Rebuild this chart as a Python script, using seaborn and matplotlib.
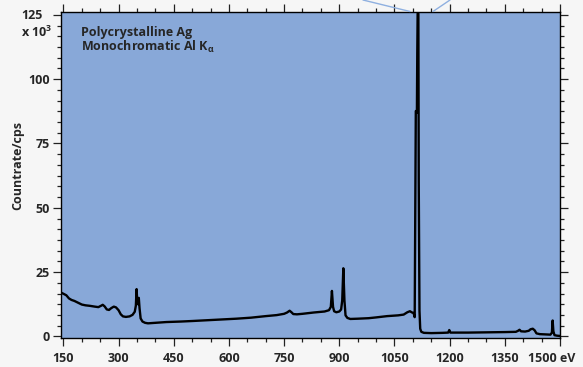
import matplotlib
matplotlib.use('Agg')
import matplotlib.pyplot as plt
from matplotlib.ticker import MultipleLocator
from matplotlib.lines import Line2D
import pandas as pd
import seaborn as sns

# ---- data (kinetic energy in eV, countrate in 10^3 cps) ----
energy_ev = [144, 150, 158, 165, 172, 180, 190, 200, 210, 222, 235, 245, 252, 257,
             262, 268, 274, 280, 287, 293, 300, 306, 312, 320, 330, 338, 344, 347,
             349, 351, 353, 355, 357, 360, 365, 372, 380, 400, 430, 470, 500, 540,
             580, 620, 660, 700, 730, 750, 758, 765, 770, 775, 785, 800, 830, 860,
             872, 877, 880, 883, 886, 892, 900, 905, 908, 911, 914, 917, 922, 930,
             950, 980, 1000, 1030, 1060, 1075, 1085, 1092, 1098, 1102, 1105, 1107,
             1108, 1110, 1111, 1112, 1113, 1115, 1116, 1118, 1120, 1123, 1130, 1150,
             1180, 1196, 1199, 1202, 1250, 1300, 1350, 1380, 1386, 1390, 1394, 1405,
             1415, 1420, 1426, 1431, 1436, 1445, 1460, 1474, 1478, 1480, 1482, 1485,
             1492, 1500]
countrate_k = [17.0, 16.6, 16.0, 14.8, 14.2, 13.8, 13.1, 12.4, 12.1, 11.9, 11.6, 11.4, 11.9, 12.3,
               11.7, 10.5, 10.3, 11.0, 11.6, 11.3, 10.2, 8.6, 7.8, 7.6, 7.8, 8.4, 9.6, 12.0,
               18.4, 13.0, 12.5, 15.0, 11.0, 7.0, 5.8, 5.3, 5.1, 5.3, 5.6, 5.8, 6.0, 6.3,
               6.6, 6.9, 7.3, 7.9, 8.3, 8.8, 9.3, 10.0, 9.4, 8.7, 8.6, 8.8, 9.3, 9.7,
               10.2, 11.5, 17.7, 11.5, 9.8, 9.4, 9.7, 10.5, 14.0, 26.5, 14.0, 8.2, 7.2, 6.8,
               6.9, 7.1, 7.4, 7.9, 8.2, 8.5, 9.4, 9.8, 9.3, 9.1, 7.5, 60.0,
               87.6, 87.6, 87.0, 110.0, 125.5, 125.5, 60.0, 10.0, 3.0, 1.8, 1.4, 1.3,
               1.4, 1.5, 2.5, 1.5, 1.5, 1.6, 1.7, 1.8, 2.2, 2.6, 2.0, 1.9,
               2.2, 2.8, 3.0, 2.4, 1.2, 0.9, 0.8, 0.7, 1.5, 6.2, 2.0, 0.5,
               0.3, 0.2]

x_ticks = [150, 300, 450, 600, 750, 900, 1050, 1200, 1350, 1500]
x_tick_labels = ['150', '300', '450', '600', '750', '900', '1050', '1200', '1350', '']
y_ticks = [0, 25, 50, 75, 100, 125]
y_tick_labels = ['0', '25', '50', '75', '100', '']
top_y_label = '125'
scale_label = r'x 10$^{3}$'
last_x_label = '1500 eV'
sample_label = 'Polycrystalline Ag'
source_label = r'Monochromatic Al K$_{\alpha}$'
y_axis_label = 'Countrate/cps'

# ---- style ----
sns.set_style('ticks')
plt.rcParams['font.family'] = ['Open Sans', 'DejaVu Sans']
plt.rcParams['font.weight'] = 'bold'
plt.rcParams['mathtext.fontset'] = 'custom'
plt.rcParams['mathtext.rm'] = 'Open Sans:bold'
plt.rcParams['mathtext.it'] = 'Open Sans:bold'
plt.rcParams['mathtext.default'] = 'rm'

W, H = 583, 367
fig = plt.figure(figsize=(W / 100, H / 100), dpi=100, facecolor='#f6f6f6')
ax = fig.add_axes([61 / W, 1 - 338 / H, (560 - 61) / W, (338 - 11.7) / H])
ax.set_facecolor('#88a8d8')

df = pd.DataFrame({'energy': energy_ev, 'countrate': countrate_k})
sns.lineplot(data=df, x='energy', y='countrate', ax=ax, color='black',
             linewidth=1.7, estimator=None, sort=False)

ax.set_xlim(143.5, 1500)
ax.set_ylim(-0.6, 126.2)
ax.set_xlabel('')
ax.set_ylabel('')

ax.set_xticks(x_ticks)
ax.set_xticklabels(x_tick_labels, fontsize=9, fontweight='bold')
ax.set_yticks(y_ticks)
ax.set_yticklabels(y_tick_labels, fontsize=9, fontweight='bold')
ax.xaxis.set_minor_locator(MultipleLocator(50))
ax.yaxis.set_minor_locator(MultipleLocator(25 / 6))

for s in ax.spines.values():
    s.set_color('black')
    s.set_linewidth(1.0)
ax.tick_params(which='major', direction='out', length=5.8, width=0.9, color='#222222',
               top=True, right=True, labeltop=False, labelright=False, pad=2)
ax.tick_params(which='minor', direction='out', length=3.0, width=0.9, color='#222222',
               top=True, right=True)
ax.tick_params(axis='x', which='major', pad=4)

# manual labels
fig.text(43 / W, 1 - 15.7 / H, top_y_label, ha='right', va='center', fontsize=9, fontweight='bold')
fig.text(52 / W, 1 - 32 / H, scale_label, ha='right', va='center', fontsize=9, fontweight='bold')
fig.text(552 / W, 1 - 358.5 / H, last_x_label, ha='center', va='center', fontsize=9, fontweight='bold')
fig.text(18 / W, 1 - 166 / H, y_axis_label, rotation=90, ha='center', va='center',
         fontsize=9, fontweight='bold')
fig.text(81 / W, 1 - 35.7 / H, sample_label, ha='left', va='baseline', fontsize=9, fontweight='bold')
fig.text(81 / W, 1 - 50.7 / H, source_label, ha='left', va='baseline', fontsize=9, fontweight='bold')

# decorative callout lines above the main peak
fig.add_artist(Line2D([363 / W, 410 / W], [1, 1 - 11.5 / H], color='#8fb0e0', lw=1.0))
fig.add_artist(Line2D([433 / W, 450 / W], [1 - 11.5 / H, 1], color='#8fb0e0', lw=1.0))

fig.savefig('out.png', dpi=100, facecolor=fig.get_facecolor())
